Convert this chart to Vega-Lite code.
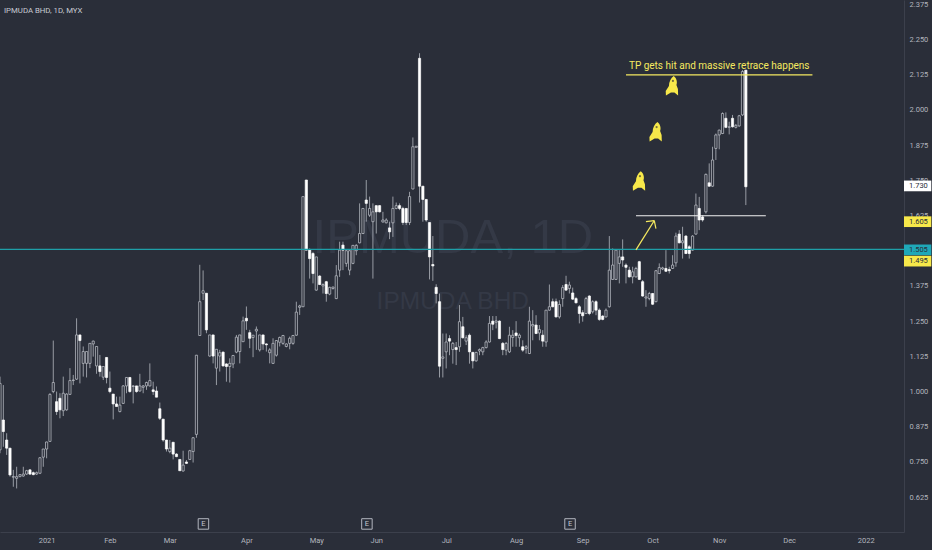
{
  "$schema": "https://vega.github.io/schema/vega-lite/v6.json",
  "description": "IPMUDA BHD daily candles, 2021",
  "width": 904,
  "height": 532,
  "autosize": {"type": "none"},
  "padding": {"left": 0, "top": 0, "right": 28, "bottom": 18},
  "background": "#2a2e39",
  "config": {"view": {"stroke": null}},
  "resolve": {"scale": {"color": "independent"}},
  "datasets": {
    "candles": [
      {"bar":0,"open":0.793,"high":1.053,"low":0.781,"close":1.029,"dir":"up"},
      {"bar":1,"open":0.899,"high":1.023,"low":0.804,"close":0.858,"dir":"down"},
      {"bar":2,"open":0.828,"high":0.852,"low":0.775,"close":0.799,"dir":"down"},
      {"bar":3,"open":0.799,"high":0.799,"low":0.698,"close":0.704,"dir":"down"},
      {"bar":4,"open":0.696,"high":0.722,"low":0.662,"close":0.698,"dir":"up"},
      {"bar":5,"open":0.692,"high":0.733,"low":0.656,"close":0.698,"dir":"up"},
      {"bar":6,"open":0.698,"high":0.707,"low":0.696,"close":0.705,"dir":"up"},
      {"bar":7,"open":0.700,"high":0.733,"low":0.698,"close":0.707,"dir":"up"},
      {"bar":8,"open":0.707,"high":0.722,"low":0.704,"close":0.719,"dir":"up"},
      {"bar":9,"open":0.722,"high":0.724,"low":0.704,"close":0.707,"dir":"down"},
      {"bar":10,"open":0.712,"high":0.716,"low":0.703,"close":0.705,"dir":"down"},
      {"bar":11,"open":0.707,"high":0.716,"low":0.704,"close":0.712,"dir":"up"},
      {"bar":12,"open":0.710,"high":0.767,"low":0.707,"close":0.765,"dir":"up"},
      {"bar":13,"open":0.767,"high":0.796,"low":0.733,"close":0.796,"dir":"up"},
      {"bar":14,"open":0.796,"high":0.822,"low":0.763,"close":0.821,"dir":"up"},
      {"bar":15,"open":0.823,"high":0.994,"low":0.822,"close":0.990,"dir":"up"},
      {"bar":16,"open":1.000,"high":1.181,"low":0.994,"close":1.032,"dir":"up"},
      {"bar":17,"open":0.964,"high":1.000,"low":0.917,"close":0.929,"dir":"down"},
      {"bar":18,"open":0.976,"high":0.994,"low":0.905,"close":0.935,"dir":"down"},
      {"bar":19,"open":0.932,"high":1.053,"low":0.913,"close":0.994,"dir":"up"},
      {"bar":20,"open":0.935,"high":0.994,"low":0.932,"close":0.991,"dir":"up"},
      {"bar":21,"open":0.990,"high":1.083,"low":0.988,"close":1.039,"dir":"up"},
      {"bar":22,"open":1.039,"high":1.059,"low":1.023,"close":1.041,"dir":"up"},
      {"bar":23,"open":1.044,"high":1.260,"low":1.041,"close":1.201,"dir":"up"},
      {"bar":24,"open":1.201,"high":1.201,"low":1.029,"close":1.181,"dir":"down"},
      {"bar":25,"open":1.100,"high":1.160,"low":1.053,"close":1.142,"dir":"up"},
      {"bar":26,"open":1.100,"high":1.142,"low":1.050,"close":1.142,"dir":"up"},
      {"bar":27,"open":1.100,"high":1.171,"low":1.083,"close":1.171,"dir":"up"},
      {"bar":28,"open":1.169,"high":1.181,"low":1.124,"close":1.179,"dir":"up"},
      {"bar":29,"open":1.091,"high":1.160,"low":1.063,"close":1.160,"dir":"up"},
      {"bar":30,"open":1.091,"high":1.130,"low":1.053,"close":1.071,"dir":"down"},
      {"bar":31,"open":1.051,"high":1.089,"low":1.041,"close":1.089,"dir":"up"},
      {"bar":32,"open":1.121,"high":1.122,"low":1.029,"close":1.050,"dir":"down"},
      {"bar":33,"open":1.012,"high":1.071,"low":0.994,"close":1.000,"dir":"down"},
      {"bar":34,"open":0.991,"high":0.991,"low":0.901,"close":0.956,"dir":"down"},
      {"bar":35,"open":0.956,"high":0.982,"low":0.947,"close":0.947,"dir":"down"},
      {"bar":36,"open":0.929,"high":0.982,"low":0.926,"close":0.952,"dir":"up"},
      {"bar":37,"open":0.958,"high":1.023,"low":0.956,"close":1.020,"dir":"up"},
      {"bar":38,"open":1.020,"high":1.051,"low":0.994,"close":1.050,"dir":"up"},
      {"bar":39,"open":1.050,"high":1.051,"low":0.996,"close":1.000,"dir":"down"},
      {"bar":40,"open":1.018,"high":1.023,"low":0.958,"close":1.020,"dir":"up"},
      {"bar":41,"open":1.020,"high":1.020,"low":0.996,"close":1.000,"dir":"down"},
      {"bar":42,"open":1.002,"high":1.063,"low":1.000,"close":1.020,"dir":"up"},
      {"bar":43,"open":1.015,"high":1.023,"low":0.994,"close":1.020,"dir":"up"},
      {"bar":44,"open":1.020,"high":1.035,"low":1.006,"close":1.032,"dir":"up"},
      {"bar":45,"open":1.020,"high":1.100,"low":1.018,"close":1.039,"dir":"up"},
      {"bar":46,"open":1.006,"high":1.035,"low":0.988,"close":1.000,"dir":"down"},
      {"bar":47,"open":1.002,"high":1.018,"low":0.980,"close":0.980,"dir":"down"},
      {"bar":48,"open":0.939,"high":0.961,"low":0.899,"close":0.905,"dir":"down"},
      {"bar":49,"open":0.902,"high":0.902,"low":0.822,"close":0.828,"dir":"down"},
      {"bar":50,"open":0.828,"high":0.828,"low":0.787,"close":0.796,"dir":"down"},
      {"bar":51,"open":0.787,"high":0.828,"low":0.781,"close":0.799,"dir":"up"},
      {"bar":52,"open":0.820,"high":0.820,"low":0.759,"close":0.778,"dir":"down"},
      {"bar":53,"open":0.778,"high":0.781,"low":0.767,"close":0.769,"dir":"down"},
      {"bar":54,"open":0.759,"high":0.759,"low":0.718,"close":0.719,"dir":"down"},
      {"bar":55,"open":0.718,"high":0.790,"low":0.716,"close":0.739,"dir":"up"},
      {"bar":56,"open":0.750,"high":0.757,"low":0.743,"close":0.745,"dir":"down"},
      {"bar":57,"open":0.759,"high":0.793,"low":0.757,"close":0.790,"dir":"up"},
      {"bar":58,"open":0.787,"high":0.838,"low":0.748,"close":0.836,"dir":"up"},
      {"bar":59,"open":0.848,"high":1.130,"low":0.836,"close":1.129,"dir":"up"},
      {"bar":60,"open":1.199,"high":1.450,"low":1.198,"close":1.319,"dir":"up"},
      {"bar":61,"open":1.349,"high":1.430,"low":1.325,"close":1.358,"dir":"up"},
      {"bar":62,"open":1.349,"high":1.349,"low":1.207,"close":1.219,"dir":"down"},
      {"bar":63,"open":1.126,"high":1.201,"low":1.124,"close":1.201,"dir":"up"},
      {"bar":64,"open":1.201,"high":1.201,"low":1.100,"close":1.126,"dir":"down"},
      {"bar":65,"open":1.083,"high":1.150,"low":1.023,"close":1.150,"dir":"up"},
      {"bar":66,"open":1.126,"high":1.148,"low":1.071,"close":1.138,"dir":"up"},
      {"bar":67,"open":1.140,"high":1.142,"low":1.089,"close":1.091,"dir":"down"},
      {"bar":68,"open":1.098,"high":1.100,"low":1.035,"close":1.089,"dir":"down"},
      {"bar":69,"open":1.089,"high":1.118,"low":1.032,"close":1.100,"dir":"up"},
      {"bar":70,"open":1.098,"high":1.130,"low":1.083,"close":1.128,"dir":"up"},
      {"bar":71,"open":1.140,"high":1.201,"low":1.136,"close":1.193,"dir":"up"},
      {"bar":72,"open":1.142,"high":1.201,"low":1.100,"close":1.201,"dir":"up"},
      {"bar":73,"open":1.177,"high":1.266,"low":1.177,"close":1.251,"dir":"up"},
      {"bar":74,"open":1.260,"high":1.302,"low":1.219,"close":1.251,"dir":"down"},
      {"bar":75,"open":1.209,"high":1.219,"low":1.154,"close":1.189,"dir":"down"},
      {"bar":76,"open":1.192,"high":1.201,"low":1.122,"close":1.200,"dir":"up"},
      {"bar":77,"open":1.215,"high":1.231,"low":1.148,"close":1.221,"dir":"up"},
      {"bar":78,"open":1.148,"high":1.201,"low":1.142,"close":1.201,"dir":"up"},
      {"bar":79,"open":1.201,"high":1.201,"low":1.148,"close":1.169,"dir":"down"},
      {"bar":80,"open":1.169,"high":1.171,"low":1.142,"close":1.166,"dir":"down"},
      {"bar":81,"open":1.138,"high":1.154,"low":1.100,"close":1.148,"dir":"up"},
      {"bar":82,"open":1.100,"high":1.189,"low":1.098,"close":1.171,"dir":"up"},
      {"bar":83,"open":1.129,"high":1.183,"low":1.124,"close":1.181,"dir":"up"},
      {"bar":84,"open":1.175,"high":1.195,"low":1.160,"close":1.192,"dir":"up"},
      {"bar":85,"open":1.171,"high":1.201,"low":1.166,"close":1.199,"dir":"up"},
      {"bar":86,"open":1.160,"high":1.171,"low":1.157,"close":1.169,"dir":"up"},
      {"bar":87,"open":1.171,"high":1.195,"low":1.150,"close":1.189,"dir":"up"},
      {"bar":88,"open":1.171,"high":1.201,"low":1.166,"close":1.199,"dir":"up"},
      {"bar":89,"open":1.200,"high":1.319,"low":1.198,"close":1.282,"dir":"up"},
      {"bar":90,"open":1.299,"high":1.308,"low":1.272,"close":1.304,"dir":"up"},
      {"bar":91,"open":1.301,"high":1.692,"low":1.301,"close":1.692,"dir":"up"},
      {"bar":92,"open":1.751,"high":1.751,"low":1.502,"close":1.502,"dir":"down"},
      {"bar":93,"open":1.502,"high":1.508,"low":1.401,"close":1.472,"dir":"down"},
      {"bar":94,"open":1.490,"high":1.496,"low":1.384,"close":1.419,"dir":"down"},
      {"bar":95,"open":1.360,"high":1.478,"low":1.358,"close":1.478,"dir":"up"},
      {"bar":96,"open":1.410,"high":1.413,"low":1.378,"close":1.380,"dir":"down"},
      {"bar":97,"open":1.375,"high":1.384,"low":1.348,"close":1.380,"dir":"up"},
      {"bar":98,"open":1.390,"high":1.393,"low":1.319,"close":1.348,"dir":"down"},
      {"bar":99,"open":1.346,"high":1.372,"low":1.342,"close":1.370,"dir":"up"},
      {"bar":100,"open":1.366,"high":1.372,"low":1.362,"close":1.371,"dir":"up"},
      {"bar":101,"open":1.330,"high":1.449,"low":1.328,"close":1.411,"dir":"up"},
      {"bar":102,"open":1.431,"high":1.532,"low":1.407,"close":1.502,"dir":"up"},
      {"bar":103,"open":1.520,"high":1.532,"low":1.431,"close":1.502,"dir":"down"},
      {"bar":104,"open":1.455,"high":1.502,"low":1.443,"close":1.500,"dir":"up"},
      {"bar":105,"open":1.431,"high":1.502,"low":1.413,"close":1.500,"dir":"up"},
      {"bar":106,"open":1.455,"high":1.520,"low":1.452,"close":1.519,"dir":"up"},
      {"bar":107,"open":1.500,"high":1.523,"low":1.484,"close":1.519,"dir":"up"},
      {"bar":108,"open":1.528,"high":1.668,"low":1.526,"close":1.561,"dir":"up"},
      {"bar":109,"open":1.561,"high":1.650,"low":1.559,"close":1.650,"dir":"up"},
      {"bar":110,"open":1.680,"high":1.751,"low":1.603,"close":1.668,"dir":"down"},
      {"bar":111,"open":1.626,"high":1.692,"low":1.620,"close":1.650,"dir":"up"},
      {"bar":112,"open":1.603,"high":1.668,"low":1.401,"close":1.638,"dir":"up"},
      {"bar":113,"open":1.660,"high":1.660,"low":1.561,"close":1.638,"dir":"down"},
      {"bar":114,"open":1.660,"high":1.662,"low":1.636,"close":1.638,"dir":"down"},
      {"bar":115,"open":1.602,"high":1.638,"low":1.600,"close":1.609,"dir":"up"},
      {"bar":116,"open":1.599,"high":1.615,"low":1.597,"close":1.609,"dir":"up"},
      {"bar":117,"open":1.581,"high":1.603,"low":1.541,"close":1.567,"dir":"down"},
      {"bar":118,"open":1.599,"high":1.692,"low":1.549,"close":1.650,"dir":"up"},
      {"bar":119,"open":1.650,"high":1.671,"low":1.647,"close":1.660,"dir":"up"},
      {"bar":120,"open":1.660,"high":1.668,"low":1.644,"close":1.650,"dir":"down"},
      {"bar":121,"open":1.650,"high":1.656,"low":1.591,"close":1.600,"dir":"down"},
      {"bar":122,"open":1.650,"high":1.650,"low":1.591,"close":1.600,"dir":"down"},
      {"bar":123,"open":1.600,"high":1.709,"low":1.591,"close":1.692,"dir":"up"},
      {"bar":124,"open":1.719,"high":1.902,"low":1.718,"close":1.869,"dir":"up"},
      {"bar":125,"open":1.867,"high":1.871,"low":1.867,"close":1.871,"dir":"up"},
      {"bar":126,"open":2.183,"high":2.201,"low":1.671,"close":1.729,"dir":"down"},
      {"bar":127,"open":1.729,"high":1.729,"low":1.603,"close":1.682,"dir":"down"},
      {"bar":128,"open":1.682,"high":1.682,"low":1.603,"close":1.609,"dir":"down"},
      {"bar":129,"open":1.600,"high":1.600,"low":1.398,"close":1.478,"dir":"down"},
      {"bar":130,"open":1.451,"high":1.552,"low":1.393,"close":1.446,"dir":"down"},
      {"bar":131,"open":1.370,"high":1.381,"low":1.313,"close":1.348,"dir":"down"},
      {"bar":132,"open":1.319,"high":1.348,"low":1.050,"close":1.090,"dir":"down"},
      {"bar":133,"open":1.118,"high":1.206,"low":1.050,"close":1.123,"dir":"up"},
      {"bar":134,"open":1.141,"high":1.206,"low":1.082,"close":1.176,"dir":"up"},
      {"bar":135,"open":1.188,"high":1.200,"low":1.129,"close":1.179,"dir":"down"},
      {"bar":136,"open":1.149,"high":1.176,"low":1.099,"close":1.171,"dir":"up"},
      {"bar":137,"open":1.156,"high":1.176,"low":1.094,"close":1.149,"dir":"down"},
      {"bar":138,"open":1.159,"high":1.307,"low":1.141,"close":1.248,"dir":"up"},
      {"bar":139,"open":1.230,"high":1.265,"low":1.188,"close":1.191,"dir":"down"},
      {"bar":140,"open":1.179,"high":1.200,"low":1.165,"close":1.191,"dir":"up"},
      {"bar":141,"open":1.200,"high":1.206,"low":1.099,"close":1.141,"dir":"down"},
      {"bar":142,"open":1.139,"high":1.141,"low":1.082,"close":1.109,"dir":"down"},
      {"bar":143,"open":1.109,"high":1.141,"low":1.106,"close":1.139,"dir":"up"},
      {"bar":144,"open":1.144,"high":1.153,"low":1.129,"close":1.149,"dir":"up"},
      {"bar":145,"open":1.141,"high":1.159,"low":1.129,"close":1.156,"dir":"up"},
      {"bar":146,"open":1.156,"high":1.182,"low":1.153,"close":1.176,"dir":"up"},
      {"bar":147,"open":1.176,"high":1.268,"low":1.174,"close":1.242,"dir":"up"},
      {"bar":148,"open":1.250,"high":1.268,"low":1.218,"close":1.239,"dir":"down"},
      {"bar":149,"open":1.246,"high":1.268,"low":1.224,"close":1.251,"dir":"up"},
      {"bar":150,"open":1.250,"high":1.253,"low":1.186,"close":1.188,"dir":"down"},
      {"bar":151,"open":1.171,"high":1.176,"low":1.129,"close":1.149,"dir":"down"},
      {"bar":152,"open":1.147,"high":1.176,"low":1.129,"close":1.171,"dir":"up"},
      {"bar":153,"open":1.141,"high":1.230,"low":1.137,"close":1.200,"dir":"up"},
      {"bar":154,"open":1.192,"high":1.218,"low":1.159,"close":1.200,"dir":"up"},
      {"bar":155,"open":1.208,"high":1.250,"low":1.159,"close":1.199,"dir":"down"},
      {"bar":156,"open":1.191,"high":1.206,"low":1.159,"close":1.200,"dir":"up"},
      {"bar":157,"open":1.159,"high":1.182,"low":1.141,"close":1.147,"dir":"down"},
      {"bar":158,"open":1.153,"high":1.165,"low":1.135,"close":1.159,"dir":"up"},
      {"bar":159,"open":1.135,"high":1.301,"low":1.133,"close":1.250,"dir":"up"},
      {"bar":160,"open":1.233,"high":1.289,"low":1.182,"close":1.238,"dir":"up"},
      {"bar":161,"open":1.236,"high":1.271,"low":1.204,"close":1.206,"dir":"down"},
      {"bar":162,"open":1.208,"high":1.236,"low":1.182,"close":1.220,"dir":"up"},
      {"bar":163,"open":1.200,"high":1.218,"low":1.159,"close":1.179,"dir":"down"},
      {"bar":164,"open":1.176,"high":1.289,"low":1.159,"close":1.289,"dir":"up"},
      {"bar":165,"open":1.289,"high":1.380,"low":1.287,"close":1.301,"dir":"up"},
      {"bar":166,"open":1.319,"high":1.330,"low":1.299,"close":1.301,"dir":"down"},
      {"bar":167,"open":1.319,"high":1.330,"low":1.263,"close":1.265,"dir":"down"},
      {"bar":168,"open":1.265,"high":1.324,"low":1.259,"close":1.309,"dir":"up"},
      {"bar":169,"open":1.330,"high":1.378,"low":1.301,"close":1.369,"dir":"up"},
      {"bar":170,"open":1.380,"high":1.411,"low":1.358,"close":1.360,"dir":"down"},
      {"bar":171,"open":1.366,"high":1.390,"low":1.348,"close":1.378,"dir":"up"},
      {"bar":172,"open":1.350,"high":1.369,"low":1.325,"close":1.328,"dir":"down"},
      {"bar":173,"open":1.330,"high":1.336,"low":1.313,"close":1.315,"dir":"down"},
      {"bar":174,"open":1.301,"high":1.307,"low":1.242,"close":1.277,"dir":"down"},
      {"bar":175,"open":1.280,"high":1.289,"low":1.248,"close":1.269,"dir":"down"},
      {"bar":176,"open":1.277,"high":1.336,"low":1.275,"close":1.330,"dir":"up"},
      {"bar":177,"open":1.339,"high":1.342,"low":1.271,"close":1.277,"dir":"down"},
      {"bar":178,"open":1.283,"high":1.324,"low":1.277,"close":1.319,"dir":"up"},
      {"bar":179,"open":1.319,"high":1.324,"low":1.271,"close":1.289,"dir":"down"},
      {"bar":180,"open":1.289,"high":1.295,"low":1.251,"close":1.256,"dir":"down"},
      {"bar":181,"open":1.268,"high":1.271,"low":1.253,"close":1.256,"dir":"down"},
      {"bar":182,"open":1.265,"high":1.295,"low":1.263,"close":1.289,"dir":"up"},
      {"bar":183,"open":1.301,"high":1.552,"low":1.298,"close":1.431,"dir":"up"},
      {"bar":184,"open":1.398,"high":1.508,"low":1.396,"close":1.449,"dir":"up"},
      {"bar":185,"open":1.398,"high":1.504,"low":1.396,"close":1.502,"dir":"up"},
      {"bar":186,"open":1.455,"high":1.502,"low":1.384,"close":1.478,"dir":"up"},
      {"bar":187,"open":1.478,"high":1.540,"low":1.443,"close":1.467,"dir":"down"},
      {"bar":188,"open":1.449,"high":1.455,"low":1.384,"close":1.441,"dir":"down"},
      {"bar":189,"open":1.431,"high":1.443,"low":1.405,"close":1.407,"dir":"down"},
      {"bar":190,"open":1.407,"high":1.443,"low":1.384,"close":1.425,"dir":"up"},
      {"bar":191,"open":1.407,"high":1.443,"low":1.405,"close":1.437,"dir":"up"},
      {"bar":192,"open":1.461,"high":1.464,"low":1.396,"close":1.398,"dir":"down"},
      {"bar":193,"open":1.390,"high":1.396,"low":1.337,"close":1.339,"dir":"down"},
      {"bar":194,"open":1.332,"high":1.360,"low":1.301,"close":1.336,"dir":"up"},
      {"bar":195,"open":1.330,"high":1.354,"low":1.324,"close":1.348,"dir":"up"},
      {"bar":196,"open":1.348,"high":1.350,"low":1.307,"close":1.310,"dir":"down"},
      {"bar":197,"open":1.319,"high":1.431,"low":1.317,"close":1.429,"dir":"up"},
      {"bar":198,"open":1.419,"high":1.455,"low":1.417,"close":1.440,"dir":"up"},
      {"bar":199,"open":1.435,"high":1.443,"low":1.431,"close":1.439,"dir":"up"},
      {"bar":200,"open":1.437,"high":1.502,"low":1.425,"close":1.427,"dir":"down"},
      {"bar":201,"open":1.433,"high":1.443,"low":1.419,"close":1.429,"dir":"down"},
      {"bar":202,"open":1.437,"high":1.484,"low":1.435,"close":1.449,"dir":"up"},
      {"bar":203,"open":1.457,"high":1.564,"low":1.443,"close":1.552,"dir":"up"},
      {"bar":204,"open":1.559,"high":1.573,"low":1.526,"close":1.528,"dir":"down"},
      {"bar":205,"open":1.528,"high":1.585,"low":1.472,"close":1.535,"dir":"up"},
      {"bar":206,"open":1.552,"high":1.555,"low":1.488,"close":1.490,"dir":"down"},
      {"bar":207,"open":1.514,"high":1.520,"low":1.472,"close":1.490,"dir":"down"},
      {"bar":208,"open":1.502,"high":1.555,"low":1.500,"close":1.552,"dir":"up"},
      {"bar":209,"open":1.559,"high":1.703,"low":1.557,"close":1.662,"dir":"up"},
      {"bar":210,"open":1.650,"high":1.691,"low":1.573,"close":1.609,"dir":"down"},
      {"bar":211,"open":1.620,"high":1.626,"low":1.603,"close":1.609,"dir":"down"},
      {"bar":212,"open":1.638,"high":1.774,"low":1.632,"close":1.771,"dir":"up"},
      {"bar":213,"open":1.741,"high":1.810,"low":1.727,"close":1.729,"dir":"down"},
      {"bar":214,"open":1.729,"high":1.869,"low":1.727,"close":1.822,"dir":"up"},
      {"bar":215,"open":1.863,"high":1.916,"low":1.822,"close":1.911,"dir":"up"},
      {"bar":216,"open":1.911,"high":1.930,"low":1.860,"close":1.928,"dir":"up"},
      {"bar":217,"open":1.916,"high":1.991,"low":1.914,"close":1.987,"dir":"up"},
      {"bar":218,"open":1.970,"high":1.991,"low":1.935,"close":1.938,"dir":"down"},
      {"bar":219,"open":1.938,"high":1.958,"low":1.913,"close":1.940,"dir":"up"},
      {"bar":220,"open":1.970,"high":1.982,"low":1.937,"close":1.940,"dir":"down"},
      {"bar":221,"open":1.938,"high":1.950,"low":1.934,"close":1.945,"dir":"up"},
      {"bar":222,"open":1.943,"high":1.982,"low":1.940,"close":1.979,"dir":"up"},
      {"bar":223,"open":1.982,"high":2.141,"low":1.979,"close":2.136,"dir":"up"},
      {"bar":224,"open":2.141,"high":2.141,"low":1.662,"close":1.727,"dir":"down"}
    ],
    "segments": [
      {"bar":0,"bar2":271.5,"price":1.505,"price2":1.505,"kind":"support"},
      {"bar":191,"bar2":230,"price":1.624,"price2":1.624,"kind":"level"},
      {"bar":188,"bar2":244,"price":2.124,"price2":2.124,"kind":"target"},
      {"bar":191,"bar2":196.5,"price":1.503,"price2":1.607,"kind":"target"},
      {"bar":194,"bar2":196.5,"price":1.603,"price2":1.607,"kind":"target"},
      {"bar":196.5,"bar2":197,"price":1.607,"price2":1.578,"kind":"target"}
    ],
    "rockets": [
      {"bar":201.8,"price":2.085},
      {"bar":196.9,"price":1.921},
      {"bar":191.9,"price":1.747}
    ],
    "earnings": [
      {"bar":61.1,"price":0.53,"label":"E"},
      {"bar":110.2,"price":0.53,"label":"E"},
      {"bar":171.2,"price":0.53,"label":"E"}
    ],
    "tags": [
      {"bar":271.5,"bar2":279.7,"price":1.730,"top":1.749,"bottom":1.711,"label":"1.730","tag":"last"},
      {"bar":271.5,"bar2":279.7,"price":1.603,"top":1.622,"bottom":1.584,"label":"1.605","tag":"note"},
      {"bar":271.5,"bar2":279.7,"price":1.503,"top":1.522,"bottom":1.484,"label":"1.505","tag":"line"},
      {"bar":271.5,"bar2":279.7,"price":1.463,"top":1.482,"bottom":1.444,"label":"1.495","tag":"note"}
    ]
  },
  "encoding": {
    "x": {
      "field": "bar",
      "type": "quantitative",
      "scale": {"domain": [0, 271.5], "nice": false, "zero": false, "padding": 0},
      "axis": {
        "title": null,
        "grid": false,
        "ticks": false,
        "domainColor": "#3c404c",
        "values": [14, 33, 51, 74, 95, 113, 134, 155, 175, 196, 216, 237, 260],
        "labelExpr": "{'14':'2021','33':'Feb','51':'Mar','74':'Apr','95':'May','113':'Jun','134':'Jul','155':'Aug','175':'Sep','196':'Oct','216':'Nov','237':'Dec','260':'2022'}[datum.value]",
        "labelColor": "#b2b5be",
        "labelFont": "Roboto",
        "labelFontSize": 7.5,
        "labelBaseline": "middle",
        "labelPadding": 8,
        "labelFlush": false,
        "labelOverlap": false
      }
    },
    "y": {
      "field": "price",
      "type": "quantitative",
      "scale": {"domain": [0.5014, 2.39], "nice": false, "zero": false},
      "axis": {
        "orient": "right",
        "title": null,
        "grid": false,
        "ticks": false,
        "domainColor": "#3c404c",
        "values": [0.625, 0.75, 0.875, 1, 1.125, 1.25, 1.375, 1.625, 1.75, 1.875, 2, 2.125, 2.25, 2.375],
        "format": ".3f",
        "labelColor": "#b2b5be",
        "labelFont": "Roboto",
        "labelFontSize": 7.5,
        "labelPadding": 5,
        "labelFlush": false,
        "labelOverlap": false
      }
    }
  },
  "layer": [
    {
      "data": {"values": [{"bar": 136, "price": 1.545, "label": "IPMUDA, 1D"}]},
      "mark": {"type": "text", "font": "Liberation Sans", "fontSize": 49, "color": "#343946", "align": "center", "baseline": "middle"},
      "encoding": {"text": {"field": "label"}}
    },
    {
      "data": {"values": [{"bar": 136, "price": 1.318, "label": "IPMUDA BHD"}]},
      "mark": {"type": "text", "font": "Liberation Sans", "fontSize": 24.5, "color": "#343946", "align": "center", "baseline": "middle"},
      "encoding": {"text": {"field": "label"}}
    },
    {
      "data": {"values": [{"bar": 216, "price": 2.157, "label": "TP gets hit and massive retrace happens"}]},
      "mark": {"type": "text", "font": "Roboto", "fontSize": 10, "color": "#f5e960", "align": "center", "baseline": "middle"},
      "encoding": {"text": {"field": "label"}}
    },
    {
      "data": {"name": "rockets"},
      "mark": {
        "type": "point",
        "filled": true,
        "opacity": 1,
        "size": 400,
        "color": "#f7e84a",
        "shape": "M0.18 -1 C0.5 -0.75 0.55 -0.35 0.45 -0.1 L0.6 0.3 L0.62 0.95 L0.25 0.65 L-0.1 0.65 L-0.6 0.95 L-0.62 0.5 L-0.3 0 C-0.3 -0.4 -0.1 -0.8 0.18 -1 Z"
      }
    },
    {
      "data": {"name": "rockets"},
      "mark": {"type": "point", "filled": true, "opacity": 1, "size": 5, "color": "#77703a", "shape": "circle", "yOffset": -5, "xOffset": 1}
    },
    {
      "data": {"name": "candles"},
      "mark": {"type": "rule", "color": "#b4b7bf", "strokeWidth": 0.8},
      "encoding": {
        "y": {
          "field": "low",
          "type": "quantitative",
          "scale": {"domain": [0.5014, 2.39], "nice": false, "zero": false},
          "axis": {
            "orient": "right",
            "title": null,
            "grid": false,
            "ticks": false,
            "domainColor": "#3c404c",
            "values": [0.625, 0.75, 0.875, 1, 1.125, 1.25, 1.375, 1.625, 1.75, 1.875, 2, 2.125, 2.25, 2.375],
            "format": ".3f",
            "labelColor": "#b2b5be",
            "labelFont": "Roboto",
            "labelFontSize": 7.5,
            "labelPadding": 5,
            "labelFlush": false,
            "labelOverlap": false
          }
        },
        "y2": {"field": "high"}
      }
    },
    {
      "data": {"name": "candles"},
      "mark": {"type": "bar", "size": 2.2, "orient": "vertical", "strokeWidth": 0.7},
      "encoding": {
        "y": {
          "field": "open",
          "type": "quantitative",
          "scale": {"domain": [0.5014, 2.39], "nice": false, "zero": false},
          "axis": {
            "orient": "right",
            "title": null,
            "grid": false,
            "ticks": false,
            "domainColor": "#3c404c",
            "values": [0.625, 0.75, 0.875, 1, 1.125, 1.25, 1.375, 1.625, 1.75, 1.875, 2, 2.125, 2.25, 2.375],
            "format": ".3f",
            "labelColor": "#b2b5be",
            "labelFont": "Roboto",
            "labelFontSize": 7.5,
            "labelPadding": 5,
            "labelFlush": false,
            "labelOverlap": false
          }
        },
        "y2": {"field": "close"},
        "fill": {"field": "dir", "type": "nominal", "scale": {"domain": ["up", "down"], "range": ["#2a2e39", "#ffffff"]}, "legend": null},
        "stroke": {"field": "dir", "type": "nominal", "scale": {"domain": ["up", "down"], "range": ["#c4c7cf", "#ffffff"]}, "legend": null}
      }
    },
    {
      "data": {"name": "segments"},
      "mark": {"type": "rule", "strokeWidth": 1.2},
      "encoding": {
        "x2": {"field": "bar2"},
        "y2": {"field": "price2"},
        "color": {"field": "kind", "type": "nominal", "scale": {"domain": ["support", "level", "target"], "range": ["#1e9fa8", "#f2f2f2", "#f5e960"]}, "legend": null}
      }
    },
    {
      "data": {"name": "earnings"},
      "mark": {"type": "point", "shape": "square", "size": 110, "filled": true, "opacity": 1, "fill": "#2a2e39", "stroke": "#b2b5be", "strokeWidth": 1}
    },
    {
      "data": {"name": "earnings"},
      "mark": {"type": "text", "font": "Roboto", "fontSize": 7.5, "color": "#c4c7cf", "align": "center", "baseline": "middle"},
      "encoding": {"text": {"field": "label"}}
    },
    {
      "data": {"values": [{"bar": 1.2, "price": 2.351, "label": "IPMUDA BHD, 1D, MYX"}]},
      "mark": {"type": "text", "font": "Roboto", "fontSize": 7.8, "color": "#c8cbd3", "align": "left", "baseline": "middle"},
      "encoding": {"text": {"field": "label"}}
    },
    {
      "data": {"name": "tags"},
      "mark": {"type": "rect"},
      "encoding": {
        "x2": {"field": "bar2"},
        "y": {
          "field": "top",
          "type": "quantitative",
          "scale": {"domain": [0.5014, 2.39], "nice": false, "zero": false},
          "axis": {
            "orient": "right",
            "title": null,
            "grid": false,
            "ticks": false,
            "domainColor": "#3c404c",
            "values": [0.625, 0.75, 0.875, 1, 1.125, 1.25, 1.375, 1.625, 1.75, 1.875, 2, 2.125, 2.25, 2.375],
            "format": ".3f",
            "labelColor": "#b2b5be",
            "labelFont": "Roboto",
            "labelFontSize": 7.5,
            "labelPadding": 5,
            "labelFlush": false,
            "labelOverlap": false
          }
        },
        "y2": {"field": "bottom"},
        "color": {"field": "tag", "type": "nominal", "scale": {"domain": ["last", "note", "line"], "range": ["#ffffff", "#f7e84a", "#1fa8b8"]}, "legend": null}
      }
    },
    {
      "data": {"name": "tags"},
      "mark": {"type": "text", "font": "Roboto", "fontSize": 7.5, "color": "#2a2e39", "align": "left", "baseline": "middle", "dx": 5},
      "encoding": {"text": {"field": "label"}}
    }
  ]
}
